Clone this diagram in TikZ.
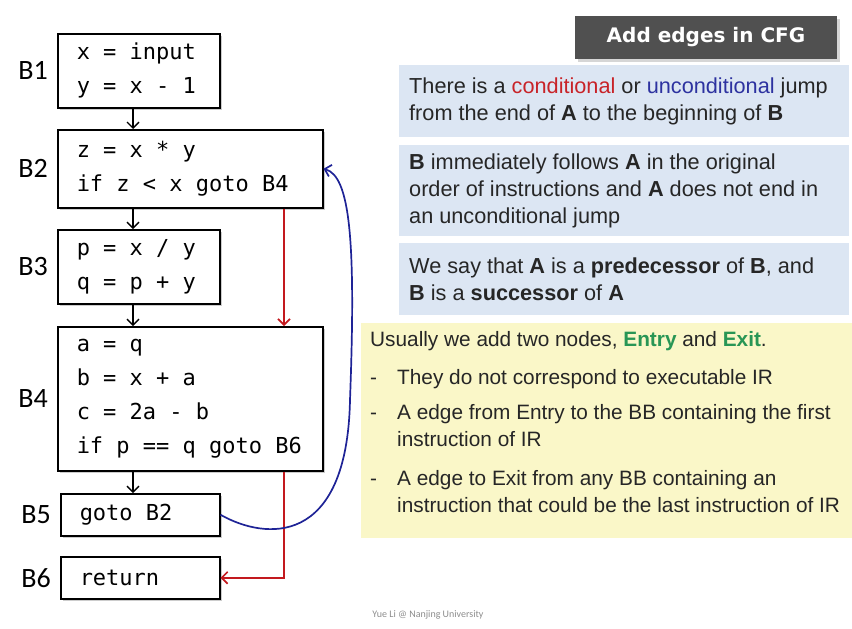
\documentclass[tikz,border=0pt]{standalone}
\usepackage{fontspec}
\setmainfont{Liberation Sans}
\setmonofont{DejaVu Sans Mono}
\newfontfamily\labelfont{Carlito}
\newfontfamily\titlefont{DejaVu Sans}
\usepackage{tikz}
\usetikzlibrary{arrows.meta,positioning,shadows}
\definecolor{condred}{RGB}{200,35,40}
\definecolor{uncondblue}{RGB}{45,50,160}
\definecolor{edgered}{RGB}{195,25,30}
\definecolor{edgeblue}{RGB}{30,35,150}
\definecolor{entrygreen}{RGB}{40,150,85}
\definecolor{infoblue}{RGB}{220,230,243}
\definecolor{noteyellow}{RGB}{250,247,200}
\definecolor{titlegray}{RGB}{80,80,80}

\begin{document}
\begin{tikzpicture}[x=1pt, y=-1pt,
	every node/.style={execute at begin node={\spaceskip=0pt\xspaceskip=0pt\relax}},
	blk/.style={draw, line width=1.5pt, fill=white, anchor=north west, align=left, inner xsep=19pt, inner ysep=0pt, font=\ttfamily\fontsize{22}{34}\selectfont, drop shadow={shadow xshift=2pt, shadow yshift=-2pt, fill=black!40, opacity=0.5}},
	lbl/.style={font=\labelfont\fontsize{28}{28}\selectfont, inner sep=0pt},
	flow/.style={line width=1.4pt, -{Straight Barb[length=6pt, width=12pt]}},
	takenjump/.style={edgered, line width=1.6pt, -{Straight Barb[length=6pt, width=12pt]}},
	backjump/.style={edgeblue, line width=1.7pt, -{Straight Barb[length=6pt, width=12pt]}},
	infobox/.style={fill=infoblue, anchor=north west, align=left, text width=430pt, inner xsep=10pt, inner ysep=0pt, minimum width=446pt, text=black!85, font=\fontsize{21.7}{27}\selectfont},
	notebox/.style={fill=noteyellow, anchor=north west, minimum width=494pt, minimum height=215pt, inner sep=0pt},
	titlebox/.style={fill=titlegray, text=white, minimum width=262pt, minimum height=43pt, font=\titlefont\bfseries\fontsize{20}{20}\selectfont, drop shadow={shadow xshift=3pt, shadow yshift=-3pt, fill=black!40, opacity=0.4}}]
	\useasboundingbox (0,0) rectangle (852,629);
	\node[blk, text width=124pt, minimum height=74pt] (B1) at (57,33) {x = input\\y = x - 1};
	\node[blk, text width=227pt, minimum height=78pt] (B2) at (57,129) {z = x * y\\if z < x goto B4};
	\node[blk, text width=124pt, minimum height=74pt] (B3) at (57,229) {p = x / y\\q = p + y};
	\node[blk, text width=227pt, minimum height=144pt] (B4) at (57,326) {a = q\\b = x + a\\c = 2a - b\\if p == q goto B6};
	\node[blk, text width=121pt, minimum height=42pt] (B5) at (60,493) {goto B2};
	\node[blk, text width=121pt, minimum height=42pt] (B6) at (60,556) {return};
	\foreach \b in {1,...,6} {\node[lbl, left=9pt of B\b] (L\b) {B\b};}
	\coordinate (ax) at (133,0);
	\coordinate (rx) at (284,0);
	\coordinate (bj) at (350,400);
	\foreach \a/\b in {B1/B2, B2/B3, B3/B4, B4/B5} {\draw[flow] (\a.south -| ax) -- (\b.north -| ax);}
	\draw[takenjump] (B2.south -| rx) -- (B4.north -| rx);
	\draw[takenjump] (B4.south -| rx) |- (B6.east);
	\draw[backjump] (B5.east) .. controls (265,540) and (347,548) .. (bj) .. controls (356,240) and (350,176) .. (B2.east);
	\node[titlebox] (title) at (706,37) {Add edges in CFG};
	\node[infobox, minimum height=72pt] (R1) at (399,65) {There is a \textcolor{condred}{conditional} or \textcolor{uncondblue}{unconditional} jump\\from the end of \textbf{A} to the beginning of \textbf{B}};
	\node[infobox, minimum height=91pt] (R2) at (399,145) {\textbf{B} immediately follows \textbf{A} in the original\\order of instructions and \textbf{A} does not end in\\an unconditional jump};
	\node[infobox, minimum height=72pt] (R3) at (399,243) {We say that \textbf{A} is a \textbf{predecessor} of \textbf{B}, and\\\textbf{B} is a \textbf{successor} of \textbf{A}};
	\node[notebox] (note) at (361,323) {};
	\node[anchor=north west, align=left, inner xsep=9pt, inner ysep=8pt, text=black!85, font=\fontsize{20.8}{27}\selectfont] (notetext) at (note.north west) {Usually we add two nodes, \textcolor{entrygreen}{\textbf{Entry}} and \textcolor{entrygreen}{\textbf{Exit}}.\\[11pt]
		\makebox[27pt][l]{-}They do not correspond to executable IR\\[8pt]
		\makebox[27pt][l]{-}A edge from Entry to the BB containing the first\\
		\hspace*{27pt}instruction of IR\\[12pt]
		\makebox[27pt][l]{-}A edge to Exit from any BB containing an\\
		\hspace*{27pt}instruction that could be the last instruction of IR};
	\node[font=\labelfont\fontsize{10}{10}\selectfont, text=black!45] (credit) at (428,615) {Yue Li @ Nanjing University};
\end{tikzpicture}
\end{document}
